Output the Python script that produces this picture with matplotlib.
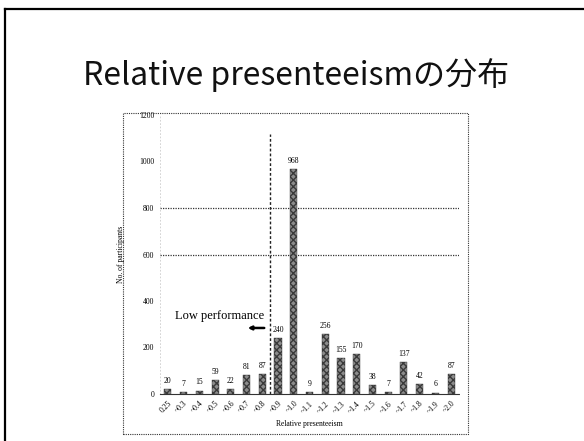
import matplotlib.pyplot as plt
import numpy as np
from matplotlib.patches import Rectangle
from matplotlib.lines import Line2D

# relative presenteeism bins and number of participants in each
bins = ["0.25", "~0.3", "~0.4", "~0.5", "~0.6", "~0.7", "~0.8", "~0.9", "~1.0", "~1.1",
        "~1.2", "~1.3", "~1.4", "~1.5", "~1.6", "~1.7", "~1.8", "~1.9", "~2.0"]
counts = [20, 7, 15, 59, 22, 81, 87, 240, 968, 9, 256, 155, 170, 38, 7, 137, 42, 6, 87]
yticks = [0, 200, 400, 600, 800, 1000, 1200]
ref_lines = [600, 800]
cutoff = 6.5  # boundary between ~0.8 and ~0.9

serif = "Liberation Serif"

fig = plt.figure(figsize=(5.84, 4.41), dpi=100)
fig.patch.set_facecolor("white")

# slide frame (left and top edges)
fig.add_artist(Line2D([5/584, 5/584], [0, 1 - 9/441], color="black", lw=1.6))
fig.add_artist(Line2D([5/584, 1], [1 - 9/441, 1 - 9/441], color="black", lw=1.6))

fig.text(0.507, 0.83, "Relative presenteeismの分布", ha="center", va="center",
         fontsize=23, family=["Noto Sans CJK JP", "DejaVu Sans"], color="#111111")

# dotted border round the embedded chart
fig.add_artist(Rectangle((123/584, 7/441), 345/584, 321/441, transform=fig.transFigure,
                         fill=False, ls=(0, (1, 1)), lw=0.8, edgecolor="#333333"))

ax = fig.add_axes([160/584, 47/441, 299/584, 279/441])
x = np.arange(len(bins))
ax.bar(x, counts, width=0.45, color="#8c8c8c", edgecolor="#3a3a3a", hatch="xxxxx", lw=0.3)
for xi, c in zip(x, counts):
    ax.text(xi, c + 18, str(c), ha="center", va="bottom", fontsize=5.5, family=serif)

for lv in ref_lines:
    ax.axhline(lv, color="#333333", ls=(0, (1, 1)), lw=0.9, zorder=0)
ax.plot([cutoff, cutoff], [0, 1120], color="#222222", ls=(0, (2, 1.5)), lw=1.0)

ax.annotate("", xy=(4.9, 284), xytext=(6.3, 284),
            arrowprops=dict(arrowstyle="-|>", color="black", lw=1.8, mutation_scale=5))
ax.text(6.1, 335, "Low performance", ha="right", va="center", fontsize=9, family=serif)

ax.set_xlim(-0.5, len(bins) - 0.5)
ax.set_ylim(0, 1200)
ax.set_yticks(yticks)
ax.set_yticklabels([str(t) for t in yticks], fontsize=5.5, family=serif)
ax.set_xticks(x)
ax.set_xticklabels(bins, rotation=45, ha="right", rotation_mode="anchor",
                   fontsize=5.5, family=serif)
ax.tick_params(length=0, pad=4)
ax.set_ylabel("No. of participants", fontsize=5.5, family=serif, labelpad=10)
ax.set_xlabel("Relative presenteeism", fontsize=5.5, family=serif, labelpad=4)

for s in ["top", "right"]:
    ax.spines[s].set_visible(False)
ax.spines["left"].set_color("#cccccc")
ax.spines["left"].set_linestyle((0, (1, 3)))
ax.spines["left"].set_linewidth(0.6)
ax.spines["bottom"].set_color("#333333")
ax.spines["bottom"].set_linestyle((0, (1, 1)))
ax.spines["bottom"].set_linewidth(0.8)

fig.savefig("out.png", dpi=100)
